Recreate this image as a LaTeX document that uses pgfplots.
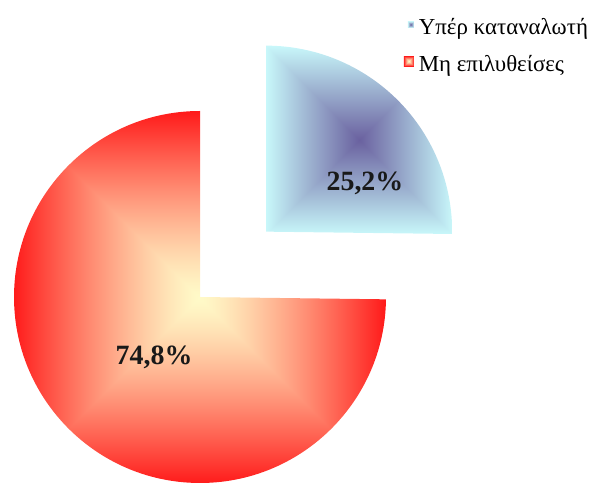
\documentclass[border=0pt]{standalone}
\usepackage{fontspec}
\setmainfont{Liberation Serif}
\usepackage{pgfplots}
\usepackage{pgfplotstable}
\pgfplotsset{compat=1.18}

% rectangular (box) gradients: t = max(|x|,|y|) from the box centre
\pgfdeclarefunctionalshading{redbox}{\pgfpoint{0bp}{0bp}}{\pgfpoint{100bp}{100bp}}{}{
  50 sub abs exch 50 sub abs
  2 copy lt {exch} if pop
  25 div dup 1 gt {pop 1} if
  1.3 exp
  dup dup
  -0.684 mul 0.784 add
  exch
  -0.88 mul 0.98 add
  exch
  3 -1 roll
  0 mul 1 add
  3 1 roll
}
\pgfdeclarefunctionalshading{bluebox}{\pgfpoint{0bp}{0bp}}{\pgfpoint{100bp}{100bp}}{}{
  50 sub abs exch 50 sub abs
  2 copy lt {exch} if pop
  25 div dup 1 gt {pop 1} if
  dup dup
  0.355 mul 0.625 add
  exch
  0.59 mul 0.38 add
  exch
  3 -1 roll
  0.37 mul 0.415 add
  3 1 roll
}

\pgfplotstableread{
label value
A 25.2
B 74.8
}\piedata

\begin{document}
\begin{tikzpicture}
\pgfplotstablegetelem{0}{value}\of\piedata \let\va\pgfplotsretval
\pgfplotstablegetelem{1}{value}\of\piedata \let\vb\pgfplotsretval
\pgfmathsetmacro\angA{90-360*\va/100}
\pgfmathsetmacro\midA{90-180*\va/100}
\pgfmathsetmacro\ox{0.5*cos(\midA)}
\pgfmathsetmacro\oy{0.5*sin(\midA)}
\def\R{186bp}
\begin{axis}[
  width=597bp, height=483bp, scale only axis,
  hide axis,
  xmin=-1.07527, xmax=2.13441,
  ymin=-1.0, ymax=1.59677,
  clip=false,
  legend style={at={(rel axis cs:0.676,0.966)}, anchor=north west,
    draw=none, fill=none, inner sep=0pt,
    font=\fontsize{23}{27}\selectfont,
    row sep=15bp,
    /tikz/every even column/.append style={column sep=2bp}},
  legend cell align=left,
]
\addlegendimage{legend image code/.code={
  \path[draw=none,fill=none] (0bp,-6bp) rectangle (12bp,6bp);
  \path[draw=none,shading=bluebox] (3bp,0bp) rectangle (9bp,6bp);}}
\addlegendentry{Υπέρ καταναλωτή}
\addlegendimage{legend image code/.code={
  \path[draw=none,fill=none] (0bp,-6bp) rectangle (12bp,6bp);
  \path[draw=none,shading=redbox] (-1bp,-2bp) rectangle (9bp,8bp);}}
\addlegendentry{Μη επιλυθείσες}

% big slice (74.8%)
\path[draw=none,shading=redbox] (axis cs:0,0) -- ++(\angA:\R)
   arc[start angle=\angA, end angle=-270, radius=\R] -- cycle;
% exploded small slice (25.2%)
\path[draw=none,shading=bluebox] (axis cs:\ox,\oy) -- ++(90:\R)
   arc[start angle=90, end angle=\angA, radius=\R] -- cycle;

\node[font=\fontsize{28}{32}\selectfont\bfseries, text=black!90]
  at (axis cs:0.887,0.613) {25,2\%};
\node[font=\fontsize{28}{32}\selectfont\bfseries, text=black!90]
  at (axis cs:-0.247,-0.323) {74,8\%};
\end{axis}
\pgfresetboundingbox
\path (current axis.south west) rectangle (current axis.north east);
\end{tikzpicture}
\end{document}
